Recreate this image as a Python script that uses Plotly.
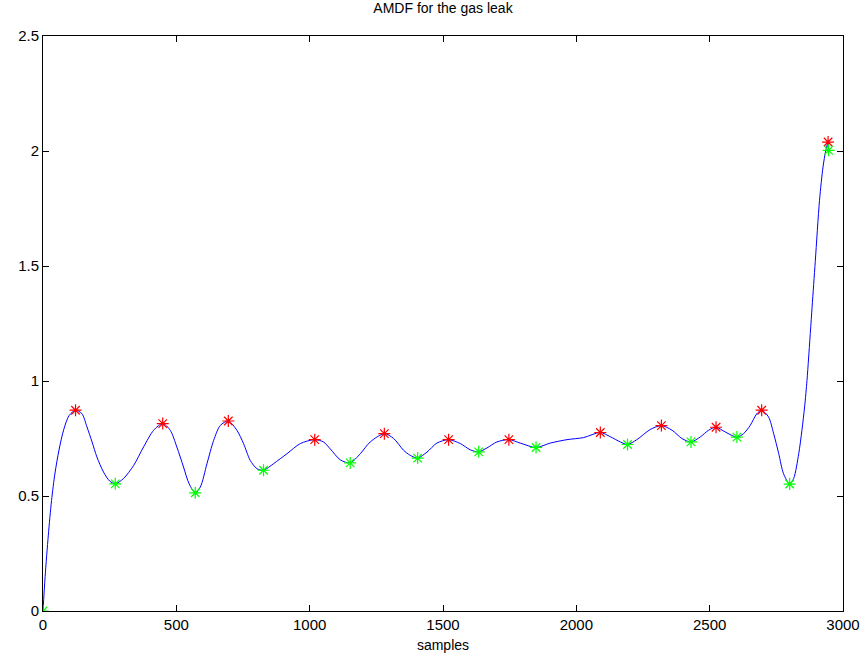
import plotly.graph_objects as go

# AMDF curve samples (lag in samples, AMDF value)
curve_x = [0, 8, 20, 32, 45, 60, 78, 98, 122, 146, 165, 184, 202, 227, 250, 271,
           302, 340, 377, 415, 449, 477, 502, 527, 548, 571, 590, 615, 640, 665,
           695, 727, 752, 777, 802, 827, 865, 915, 965, 1019, 1052, 1077, 1115,
           1152, 1190, 1227, 1280, 1315, 1352, 1377, 1405, 1440, 1477, 1521, 1565,
           1602, 1634, 1665, 1702, 1747, 1790, 1849, 1902, 1965, 2027, 2090, 2127,
           2165, 2192, 2227, 2277, 2319, 2359, 2396, 2430, 2465, 2496, 2524, 2559,
           2602, 2627, 2652, 2677, 2695, 2721, 2740, 2759, 2777, 2800, 2815, 2834,
           2846, 2856, 2865, 2871, 2884, 2896, 2912, 2925, 2935, 2944, 2946]
curve_y = [0.0, 0.15, 0.33, 0.48, 0.60, 0.70, 0.79, 0.85, 0.873, 0.858, 0.80,
           0.735, 0.67, 0.604, 0.565, 0.553, 0.576, 0.633, 0.713, 0.786, 0.815,
           0.786, 0.713, 0.626, 0.553, 0.514, 0.539, 0.641, 0.742, 0.807, 0.826,
           0.786, 0.728, 0.655, 0.619, 0.612, 0.641, 0.684, 0.728, 0.745, 0.735,
           0.705, 0.657, 0.644, 0.684, 0.735, 0.771, 0.75, 0.699, 0.677, 0.665,
           0.691, 0.73, 0.745, 0.728, 0.701, 0.692, 0.709, 0.735, 0.745, 0.730,
           0.711, 0.73, 0.745, 0.754, 0.776, 0.758, 0.735, 0.724, 0.745, 0.789,
           0.806, 0.786, 0.75, 0.735, 0.757, 0.786, 0.799, 0.778, 0.756, 0.771,
           0.807, 0.858, 0.873, 0.843, 0.771, 0.684, 0.597, 0.552, 0.576, 0.684,
           0.786, 0.887, 1.003, 1.10, 1.32, 1.52, 1.786, 1.93, 2.0, 2.039, 2.003]

# Local maxima (red) and minima (green)
peak_x = [122, 449, 695, 1019, 1280, 1521, 1747, 2090, 2319, 2524, 2695, 2944]
peak_y = [0.873, 0.815, 0.826, 0.745, 0.771, 0.745, 0.745, 0.776, 0.806, 0.799,
          0.873, 2.039]
valley_x = [0, 271, 571, 827, 1152, 1405, 1634, 1849, 2192, 2430, 2602, 2800, 2946]
valley_y = [0.0, 0.553, 0.514, 0.612, 0.644, 0.665, 0.692, 0.711, 0.724, 0.735,
            0.756, 0.552, 2.003]

x_ticks = [0, 500, 1000, 1500, 2000, 2500, 3000]
y_ticks = [0, 0.5, 1, 1.5, 2, 2.5]
y_tick_text = ["0", "0.5", "1", "1.5", "2", "2.5"]

FONT = "Liberation Sans, Arial, Helvetica"

fig = go.Figure()
fig.add_trace(go.Scatter(
    x=curve_x, y=curve_y, mode="lines",
    line=dict(color="#0000ff", width=1, shape="spline", smoothing=0.8),
    hoverinfo="skip"))
fig.add_trace(go.Scatter(
    x=peak_x, y=peak_y, mode="markers",
    marker=dict(symbol="asterisk-open", size=10, color="#ff0000",
                line=dict(color="#ff0000", width=1.2))))
fig.add_trace(go.Scatter(
    x=valley_x, y=valley_y, mode="markers",
    marker=dict(symbol="asterisk-open", size=10, color="#00ff00",
                line=dict(color="#00ff00", width=1.2))))

axis_common = dict(
    showline=True, linecolor="black", linewidth=1, mirror="ticks",
    ticks="inside", ticklen=6, tickcolor="black", showgrid=False,
    zeroline=False, automargin=False,
    tickfont=dict(family=FONT, size=15, color="black"))

fig.update_layout(
    width=864, height=657,
    margin=dict(l=43, r=21, t=36, b=46, autoexpand=False),
    paper_bgcolor="white", plot_bgcolor="white",
    showlegend=False,
    title=dict(text="AMDF for the gas leak", x=0.5, xref="paper",
               y=1, yref="container", yanchor="top", pad=dict(t=3),
               automargin=False,
               font=dict(family=FONT, size=14, color="black")),
    xaxis=dict(range=[0, 3000], tickvals=x_ticks,
               title=dict(text="samples", standoff=8,
                          font=dict(family=FONT, size=14, color="black")),
               **axis_common),
    yaxis=dict(range=[0, 2.5], tickvals=y_ticks, ticktext=y_tick_text,
               **axis_common),
)

fig.write_html("out.html")
